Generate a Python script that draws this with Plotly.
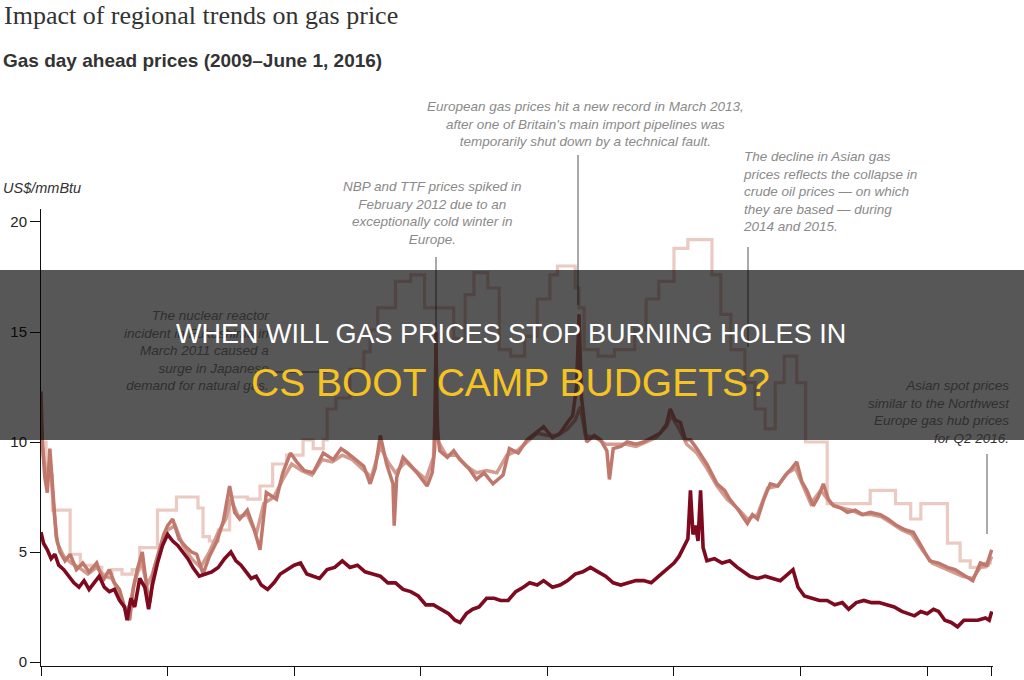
import plotly.graph_objects as go
import pandas as pd

# ---------------- data (decimal years, US$/mmBtu) ----------------
hh_years = [
    2009.00, 2009.02, 2009.05, 2009.08, 2009.11, 2009.14, 2009.18, 2009.22, 2009.26, 2009.30,
    2009.34, 2009.38, 2009.42, 2009.46, 2009.50, 2009.54, 2009.58, 2009.62, 2009.66, 2009.68,
    2009.71, 2009.74, 2009.78, 2009.82, 2009.85, 2009.88, 2009.92, 2009.96, 2010.00, 2010.04,
    2010.08, 2010.12, 2010.16, 2010.20, 2010.25, 2010.30, 2010.35, 2010.40, 2010.45, 2010.50,
    2010.54, 2010.58, 2010.62, 2010.66, 2010.70, 2010.74, 2010.79, 2010.84, 2010.89, 2010.94,
    2011.00, 2011.05, 2011.10, 2011.15, 2011.20, 2011.26, 2011.32, 2011.38, 2011.44, 2011.50,
    2011.56, 2011.62, 2011.68, 2011.74, 2011.80, 2011.86, 2011.92, 2011.98, 2012.04, 2012.10,
    2012.16, 2012.22, 2012.27, 2012.31, 2012.36, 2012.41, 2012.46, 2012.52, 2012.58, 2012.63,
    2012.69, 2012.75, 2012.81, 2012.86, 2012.92, 2012.97, 2013.04, 2013.10, 2013.16, 2013.22,
    2013.28, 2013.34, 2013.40, 2013.46, 2013.52, 2013.58, 2013.64, 2013.70, 2013.76, 2013.82,
    2013.88, 2013.94, 2014.00, 2014.04, 2014.08, 2014.11, 2014.13, 2014.15, 2014.17, 2014.19,
    2014.21, 2014.23, 2014.26, 2014.32, 2014.38, 2014.44, 2014.50, 2014.55, 2014.60, 2014.66,
    2014.72, 2014.78, 2014.84, 2014.90, 2014.94, 2014.98, 2015.03, 2015.09, 2015.15, 2015.21,
    2015.27, 2015.33, 2015.38, 2015.44, 2015.50, 2015.56, 2015.62, 2015.68, 2015.74, 2015.80,
    2015.86, 2015.90, 2015.95, 2016.00, 2016.05, 2016.09, 2016.14, 2016.19, 2016.24, 2016.29,
    2016.34, 2016.40, 2016.46, 2016.49, 2016.51,
]
hh_values = [
    5.9, 5.4, 5.1, 4.7, 4.9, 4.4, 4.2, 3.9, 3.6, 3.4,
    3.7, 3.3, 3.6, 3.9, 3.4, 3.2, 3.3, 2.8, 2.5, 1.9,
    2.9, 2.5, 3.8, 3.4, 2.4, 3.5, 4.5, 5.3, 5.8, 5.5,
    5.3, 5.0, 4.7, 4.3, 3.9, 4.0, 4.1, 4.3, 4.7, 5.0,
    4.6, 4.4, 4.1, 3.8, 3.9, 3.5, 3.3, 3.6, 4.0, 4.2,
    4.4, 4.5, 4.0, 3.9, 3.8, 4.2, 4.3, 4.6, 4.3, 4.4,
    4.1, 4.0, 3.9, 3.6, 3.6, 3.3, 3.2, 3.0, 2.6, 2.6,
    2.4, 2.2, 1.9, 1.8, 2.2, 2.4, 2.5, 2.9, 2.9, 2.8,
    2.8, 3.2, 3.4, 3.6, 3.5, 3.7, 3.4, 3.5, 3.7, 4.0,
    4.1, 4.3, 4.1, 3.9, 3.6, 3.5, 3.6, 3.7, 3.7, 3.6,
    3.9, 4.2, 4.5, 4.8, 5.3, 5.6, 7.8, 5.8, 6.2, 5.5,
    7.8, 5.2, 4.6, 4.7, 4.5, 4.6, 4.3, 4.1, 3.9, 3.8,
    3.9, 3.8, 3.7, 4.0, 4.2, 3.4, 3.0, 2.9, 2.8, 2.8,
    2.6, 2.7, 2.4, 2.7, 2.8, 2.7, 2.7, 2.6, 2.5, 2.3,
    2.2, 2.1, 2.3, 2.2, 2.4, 2.3, 1.9, 1.8, 1.6, 1.9,
    1.9, 1.9, 2.0, 1.9, 2.3,
]

nbp_years = [
    2009.00, 2009.01, 2009.03, 2009.05, 2009.07, 2009.09, 2009.12, 2009.15, 2009.19, 2009.23,
    2009.28, 2009.33, 2009.38, 2009.44, 2009.49, 2009.54, 2009.58, 2009.62, 2009.66, 2009.70,
    2009.73, 2009.76, 2009.80, 2009.84, 2009.86, 2009.89, 2009.93, 2009.97, 2010.00, 2010.04,
    2010.09, 2010.15, 2010.19, 2010.23, 2010.28, 2010.33, 2010.39, 2010.44, 2010.49, 2010.53,
    2010.57, 2010.63, 2010.68, 2010.73, 2010.78, 2010.86, 2010.91, 2010.97, 2011.02, 2011.08,
    2011.15, 2011.23, 2011.31, 2011.37, 2011.42, 2011.49, 2011.55, 2011.60, 2011.64, 2011.68,
    2011.73, 2011.78, 2011.79, 2011.81, 2011.86, 2011.91, 2011.97, 2012.05, 2012.09, 2012.11,
    2012.12, 2012.13, 2012.15, 2012.21, 2012.26, 2012.31, 2012.38, 2012.44, 2012.50, 2012.57,
    2012.65, 2012.70, 2012.77, 2012.84, 2012.90, 2012.97, 2013.04, 2013.10, 2013.16, 2013.20,
    2013.23, 2013.25, 2013.27, 2013.31, 2013.37, 2013.42, 2013.47, 2013.49, 2013.52, 2013.58,
    2013.63, 2013.70, 2013.76, 2013.83, 2013.89, 2013.94, 2013.97, 2014.01, 2014.05, 2014.09,
    2014.13, 2014.18, 2014.26, 2014.34, 2014.40, 2014.44, 2014.51, 2014.58, 2014.62, 2014.66,
    2014.71, 2014.76, 2014.82, 2014.88, 2014.93, 2014.97, 2015.01, 2015.05, 2015.10, 2015.14,
    2015.18, 2015.22, 2015.26, 2015.32, 2015.37, 2015.43, 2015.49, 2015.55, 2015.63, 2015.69,
    2015.76, 2015.83, 2015.89, 2015.95, 2016.02, 2016.09, 2016.16, 2016.22, 2016.28, 2016.33,
    2016.36, 2016.42, 2016.47, 2016.51,
]
nbp_values = [
    12.3, 10.0, 8.4, 7.7, 9.7, 8.0, 5.7, 5.0, 4.6, 4.9,
    4.2, 4.5, 4.1, 4.5, 3.7, 4.2, 3.6, 3.3, 2.5, 1.9,
    3.4, 4.2, 5.0, 3.2, 2.7, 4.2, 5.0, 5.8, 6.2, 6.5,
    5.6, 5.2, 5.0, 4.9, 4.0, 4.8, 5.5, 6.4, 8.0, 6.8,
    6.5, 6.9, 6.1, 5.1, 7.7, 7.4, 8.6, 9.5, 9.1, 8.7,
    8.6, 9.5, 9.2, 9.7, 9.5, 9.2, 8.9, 8.1, 8.8, 10.3,
    9.0, 8.1, 6.2, 8.4, 9.3, 9.0, 8.6, 8.0, 8.6, 9.7,
    15.0, 10.5, 9.6, 9.3, 9.6, 9.2, 8.8, 8.3, 8.6, 8.1,
    8.5, 9.7, 9.5, 10.1, 10.4, 10.7, 10.2, 10.4, 10.9, 11.2,
    12.5, 15.8, 12.0, 10.0, 10.3, 10.1, 9.6, 8.3, 9.7, 9.8,
    10.0, 9.9, 10.0, 10.2, 10.4, 10.8, 11.5, 11.0, 10.9, 10.1,
    10.1, 9.7, 9.0, 8.1, 7.8, 7.4, 6.9, 6.3, 6.7, 6.5,
    7.4, 8.1, 8.0, 8.5, 8.8, 9.1, 8.2, 7.8, 7.1, 7.5,
    8.1, 7.4, 7.1, 7.0, 6.8, 6.9, 6.7, 6.8, 6.7, 6.5,
    6.2, 6.0, 5.9, 5.3, 4.6, 4.5, 4.3, 4.2, 4.0, 3.8,
    3.7, 4.5, 4.4, 5.1,
]

ttf_years = [
    2009.00, 2009.02, 2009.05, 2009.07, 2009.10, 2009.13, 2009.18, 2009.24, 2009.30, 2009.37,
    2009.44, 2009.50, 2009.56, 2009.62, 2009.67, 2009.70, 2009.74, 2009.79, 2009.84, 2009.88,
    2009.94, 2010.00, 2010.06, 2010.12, 2010.19, 2010.26, 2010.33, 2010.40, 2010.46, 2010.50,
    2010.56, 2010.63, 2010.70, 2010.76, 2010.84, 2010.91, 2010.98, 2011.06, 2011.14, 2011.22,
    2011.30, 2011.38, 2011.46, 2011.54, 2011.61, 2011.68, 2011.74, 2011.80, 2011.88, 2011.96,
    2012.04, 2012.10, 2012.12, 2012.14, 2012.20, 2012.28, 2012.36, 2012.44, 2012.52, 2012.60,
    2012.68, 2012.76, 2012.84, 2012.92, 2013.00, 2013.08, 2013.16, 2013.22, 2013.26, 2013.30,
    2013.38, 2013.46, 2013.54, 2013.62, 2013.70, 2013.78, 2013.86, 2013.94, 2013.98, 2014.04,
    2014.10, 2014.18, 2014.26, 2014.34, 2014.42, 2014.50, 2014.58, 2014.66, 2014.74, 2014.82,
    2014.90, 2014.96, 2015.02, 2015.08, 2015.16, 2015.24, 2015.32, 2015.40, 2015.48, 2015.56,
    2015.64, 2015.72, 2015.80, 2015.88, 2015.96, 2016.04, 2016.12, 2016.20, 2016.28, 2016.36,
    2016.42, 2016.48, 2016.51,
]
ttf_values = [
    11.0, 9.3, 8.2, 9.2, 7.0, 5.4, 4.8, 4.5, 4.3, 4.0,
    4.3, 3.9, 3.8, 3.1, 2.3, 2.6, 3.6, 4.6, 3.5, 4.0,
    5.0, 6.0, 6.2, 5.3, 4.7, 4.3, 5.0, 5.9, 6.5, 7.4,
    6.6, 6.7, 5.8, 7.2, 7.5, 8.3, 9.0, 8.7, 8.5, 9.2,
    9.1, 9.4, 9.2, 8.8, 8.4, 9.8, 9.1, 8.6, 9.1, 8.7,
    8.3, 9.3, 12.5, 10.0, 9.4, 9.4, 8.9, 8.6, 8.7, 8.6,
    9.4, 9.6, 10.0, 10.4, 10.3, 10.3, 10.6, 11.0, 11.6, 10.3,
    10.2, 9.9, 9.9, 9.9, 9.8, 10.0, 10.2, 10.7, 11.2, 10.6,
    9.9, 9.5, 8.8, 8.0, 7.4, 7.0, 6.5, 6.7, 7.9, 8.0,
    8.6, 8.8, 8.0, 7.2, 7.8, 7.2, 7.0, 6.9, 6.7, 6.7,
    6.6, 6.3, 6.0, 5.8, 5.1, 4.5, 4.3, 4.1, 3.9, 3.8,
    4.3, 4.4, 4.8,
]

asia_years = [
    2009.00, 2009.04, 2009.09, 2009.23, 2009.31, 2009.40, 2009.48, 2009.56, 2009.64, 2009.72,
    2009.78, 2009.92, 2010.07, 2010.24, 2010.28, 2010.33, 2010.40, 2010.49, 2010.63, 2010.73,
    2010.83, 2010.94, 2011.07, 2011.15, 2011.23, 2011.26, 2011.33, 2011.44, 2011.55, 2011.60,
    2011.66, 2011.80, 2011.92, 2012.03, 2012.26, 2012.35, 2012.42, 2012.53, 2012.62, 2012.71,
    2012.82, 2012.92, 2013.02, 2013.08, 2013.22, 2013.25, 2013.29, 2013.40, 2013.53, 2013.69,
    2013.78, 2013.88, 2014.00, 2014.11, 2014.30, 2014.37, 2014.45, 2014.56, 2014.64, 2014.72,
    2014.80, 2014.87, 2014.97, 2015.04, 2015.21, 2015.55, 2015.75, 2015.87, 2015.95, 2016.16,
    2016.26, 2016.34, 2016.46, 2016.51,
]
asia_values = [
    10.0, 8.5, 6.9, 4.9, 4.4, 4.3, 4.0, 4.2, 4.0, 4.2,
    5.2, 6.9, 7.5, 7.0, 5.7, 5.5, 6.0, 7.5, 7.4, 8.0,
    9.0, 9.4, 10.1, 9.7, 10.1, 11.5, 12.0, 13.3, 14.1, 15.1,
    16.1, 17.3, 17.6, 16.1, 14.7, 16.7, 17.7, 17.0, 14.2, 13.9,
    14.8, 16.5, 17.6, 18.0, 17.0, 16.1, 14.2, 13.9, 14.2, 15.1,
    16.5, 17.3, 18.8, 19.2, 17.6, 15.8, 14.2, 12.7, 11.5, 10.6,
    12.7, 13.9, 12.7, 10.0, 7.2, 7.8, 7.2, 6.5, 7.2, 5.4,
    4.6, 4.3, 4.5, 4.5,
]

y_ticks = [0, 5, 10, 15, 20]
x_tick_years = [2009, 2010, 2011, 2012, 2013, 2014, 2015, 2016, 2016.51]
x_tick_text = ["Jan. 1<br>2009", "Jan. 1<br>2010", "Jan. 1<br>2011", "Jan. 1<br>2012",
               "Jan. 1<br>2013", "Jan. 1<br>2014", "Jan. 1<br>2015", "Jan. 1<br>2016",
               "June 1<br>2016"]

# ---------------- helpers ----------------
BASE = pd.Timestamp("2009-01-01")


def to_date(years):
    return [BASE + pd.to_timedelta((y - 2009) * 365.25, unit="D") for y in years]


W, H = 1024, 680
L, R, T, B = 41, 993, 209, 666


def px(x):
    return (x - L) / (R - L)


def py(y):
    return (B - y) / (B - T)


fig = go.Figure()

fig.add_trace(go.Scatter(x=to_date(asia_years), y=asia_values, mode="lines",
                         line=dict(color="#ebcac1", width=3.2, shape="hv"),
                         name="Asia", hoverinfo="skip"))
fig.add_trace(go.Scatter(x=to_date(ttf_years), y=ttf_values, mode="lines",
                         line=dict(color="#d39c90", width=3.5),
                         name="TTF", hoverinfo="skip"))
fig.add_trace(go.Scatter(x=to_date(nbp_years), y=nbp_values, mode="lines",
                         line=dict(color="#c0786d", width=3.5),
                         name="NBP", hoverinfo="skip"))
fig.add_trace(go.Scatter(x=to_date(hh_years), y=hh_values, mode="lines",
                         line=dict(color="#7d0a1e", width=3.6),
                         name="Henry Hub", hoverinfo="skip"))

GRAY = "#8a8a8a"
DARK = "#2f2f2f"
ANN_FONT = "Liberation Sans, Arial, sans-serif"

annotations = [
    dict(text="Impact of regional trends on gas price", x=px(2), y=py(16),
         xanchor="left", yanchor="middle",
         font=dict(family="Liberation Serif, Times New Roman, serif", size=26, color="#333333")),
    dict(text="<b>Gas day ahead prices (2009–June 1, 2016)</b>", x=px(1), y=py(60),
         xanchor="left", yanchor="middle",
         font=dict(family=ANN_FONT, size=19, color="#333333")),
    dict(text="<i>US$/mmBtu</i>", x=px(1), y=py(188), xanchor="left", yanchor="middle",
         font=dict(family=ANN_FONT, size=14.5, color="#333333")),
    dict(text="<i>European gas prices hit a new record in March 2013,<br>"
              "after one of Britain's main import pipelines was<br>"
              "temporarily shut down by a technical fault.</i>",
         x=px(585), y=py(124), xanchor="center", yanchor="middle", align="center",
         font=dict(family=ANN_FONT, size=13.5, color=GRAY)),
    dict(text="<i>NBP and TTF prices spiked in<br>February 2012 due to an<br>"
              "exceptionally cold winter in<br>Europe.</i>",
         x=px(432), y=py(213), xanchor="center", yanchor="middle", align="center",
         font=dict(family=ANN_FONT, size=13.5, color=GRAY)),
    dict(text="<i>The decline in Asian gas<br>prices reflects the collapse in<br>"
              "crude oil prices — on which<br>they are based — during<br>2014 and 2015.</i>",
         x=px(741), y=py(192), xanchor="left", yanchor="middle", align="left",
         font=dict(family=ANN_FONT, size=13.5, color=GRAY)),
    dict(text="<i>The nuclear reactor<br>incident in Fukushima in<br>March 2011 caused a<br>"
              "surge in Japanese<br>demand for natural gas.</i>",
         x=px(271), y=py(350), xanchor="right", yanchor="middle", align="right",
         font=dict(family=ANN_FONT, size=13.5, color=DARK)),
    dict(text="<i>Asian spot prices<br>similar to the Northwest<br>Europe gas hub prices<br>for Q2 2016.</i>",
         x=px(1012), y=py(412), xanchor="right", yanchor="middle", align="right",
         font=dict(family=ANN_FONT, size=13.5, color=DARK)),
    dict(text="WHEN WILL GAS PRICES STOP BURNING HOLES IN", x=px(511), y=py(334),
         xanchor="center", yanchor="middle",
         font=dict(family=ANN_FONT, size=27, color="#ffffff")),
    dict(text="CS BOOT CAMP BUDGETS?", x=px(510), y=py(382),
         xanchor="center", yanchor="middle",
         font=dict(family=ANN_FONT, size=39, color="#f5c422")),
]
for a in annotations:
    a.update(xref="paper", yref="paper", showarrow=False)

LEADER = dict(color="#555555", width=1)
shapes = [
    dict(type="line", x0=px(578), x1=px(578), y0=py(155), y1=py(305), line=LEADER),
    dict(type="line", x0=px(436), x1=px(436), y0=py(257), y1=py(330), line=LEADER),
    dict(type="line", x0=px(748), x1=px(748), y0=py(247), y1=py(347), line=LEADER),
    dict(type="line", x0=px(271), x1=px(327), y0=py(372), y1=py(372), line=LEADER),
    dict(type="line", x0=px(987), x1=px(987), y0=py(454), y1=py(534), line=LEADER),
    # dark banner
    dict(type="rect", x0=px(0), x1=px(W), y0=py(440), y1=py(270),
         fillcolor="rgba(0,0,0,0.66)", line=dict(width=0)),
]
for s in shapes:
    s.update(xref="paper", yref="paper", layer="above")

y0_val = -0.18
y1_val = 20.59

fig.update_layout(
    width=W, height=H,
    margin=dict(l=L, r=W - R, t=T, b=H - B, pad=0, autoexpand=False),
    paper_bgcolor="white", plot_bgcolor="white",
    showlegend=False,
    annotations=annotations,
    shapes=shapes,
    xaxis=dict(type="date", range=to_date([2009.0, 2016.52]), automargin=False,
               showgrid=False, zeroline=False, showline=True, linecolor="#111111", linewidth=1,
               ticks="outside", ticklen=9, tickcolor="#111111", tickwidth=1,
               tickvals=to_date(x_tick_years), ticktext=x_tick_text,
               tickfont=dict(family=ANN_FONT, size=13, color="#222222")),
    yaxis=dict(range=[y0_val, y1_val], showgrid=False, zeroline=False, automargin=False,
               showline=True, linecolor="#111111", linewidth=1,
               ticks="outside", ticklen=10, tickcolor="#111111", tickwidth=1,
               tickvals=y_ticks,
               tickfont=dict(family=ANN_FONT, size=15, color="#222222")),
)

fig.write_html("out.html")
